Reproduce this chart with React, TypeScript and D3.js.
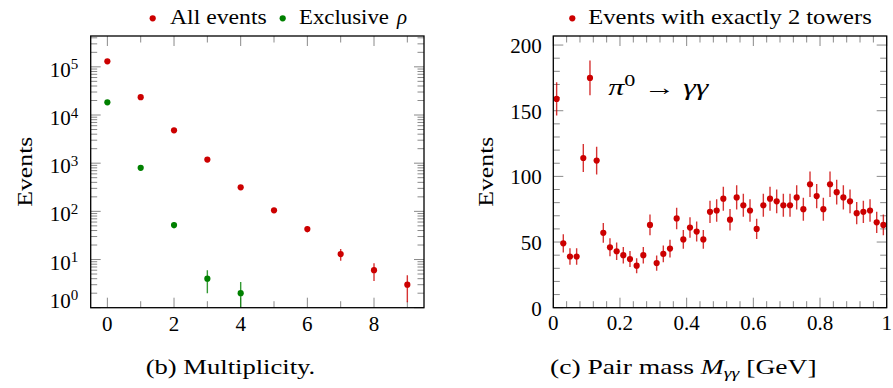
import React from 'react';
import * as d3 from 'd3';

// ---------- data ----------
const multiplicity = [0, 1, 2, 3, 4, 5, 6, 7, 8, 9];
const allEvents = [130000, 23500, 4800, 1190, 316, 105, 43, 13, 6, 3];
const allEventsErr = [360, 153, 69, 34, 18, 10.2, 6.6, 3.6, 2.4, 1.7];
const exclusiveMult = [0, 1, 2, 3, 4];
const exclusiveRho = [18300, 800, 52, 4, 2];
const exclusiveErr = [135, 28, 7.2, 2, 1.4];

const massBins = [
  0.01, 0.03, 0.05, 0.07, 0.09, 0.11, 0.13, 0.15, 0.17, 0.19,
  0.21, 0.23, 0.25, 0.27, 0.29, 0.31, 0.33, 0.35, 0.37, 0.39,
  0.41, 0.43, 0.45, 0.47, 0.49, 0.51, 0.53, 0.55, 0.57, 0.59,
  0.61, 0.63, 0.65, 0.67, 0.69, 0.71, 0.73, 0.75, 0.77, 0.79,
  0.81, 0.83, 0.85, 0.87, 0.89, 0.91, 0.93, 0.95, 0.97, 0.99,
];
const pairCounts = [
  159, 49, 39, 39, 114, 175, 112, 57, 46, 43,
  40, 37, 32, 40, 63, 34, 41, 45, 68, 52,
  61, 58, 52, 73, 74, 83, 67, 84, 78, 74,
  60, 78, 83, 81, 78, 78, 84, 75, 94, 85,
  75, 94, 88, 84, 81, 72, 73, 74, 65, 63,
];
const pairErr = [
  12.6, 7.0, 6.2, 6.2, 10.7, 13.2, 10.6, 7.5, 6.8, 6.6,
  6.3, 6.1, 5.7, 6.3, 7.9, 5.8, 6.4, 6.7, 8.2, 7.2,
  7.8, 7.6, 7.2, 8.5, 8.6, 9.1, 8.2, 9.2, 8.8, 8.6,
  7.7, 8.8, 9.1, 9.0, 8.8, 8.8, 9.2, 8.7, 9.7, 9.2,
  8.7, 9.7, 9.4, 9.2, 9.0, 8.5, 8.5, 8.6, 8.1, 7.9,
];

const multTicks = [0, 2, 4, 6, 8];
const logTicks = [1, 10, 100, 1000, 10000, 100000];
const logTickExp = ['0', '1', '2', '3', '4', '5'];
const massTicks = [0, 0.2, 0.4, 0.6, 0.8, 1];
const massTickLabels = ['0', '0.2', '0.4', '0.6', '0.8', '1'];
const countTicks = [0, 50, 100, 150, 200];

// ---------- style ----------
const RED = '#cc0000';
const GREEN = '#008000';
const TICK = '#8a8a8a';
const FONT = "'Liberation Serif', 'DejaVu Serif', serif";
const FS = 21;
const MAJ = 10;
const MIN = 6.5;

const L = { x0: 90.7, x1: 424, y0: 36, y1: 307.7 };
const R = { x0: 553.3, x1: 886.7, y0: 36, y1: 307.7 };

const xL = d3.scaleLinear().domain([-0.5, 9.5]).range([L.x0, L.x1]);
const yL = d3.scaleLog().domain([1, Math.pow(10, 5.64)]).range([L.y1, L.y0]);
const xR = d3.scaleLinear().domain([0, 1]).range([R.x0, R.x1]);
const yR = d3.scaleLinear().domain([0, 206.9]).range([R.y1, R.y0]);

function XTicks({ box, pos, len }: any) {
  return (
    <g stroke={TICK} strokeWidth={1}>
      {pos.map((x: number, i: number) => (
        <g key={i}>
          <line x1={x} x2={x} y1={box.y1} y2={box.y1 - len} />
          <line x1={x} x2={x} y1={box.y0} y2={box.y0 + len} />
        </g>
      ))}
    </g>
  );
}
function YTicks({ box, pos, len }: any) {
  return (
    <g stroke={TICK} strokeWidth={1}>
      {pos.map((y: number, i: number) => (
        <g key={i}>
          <line x1={box.x0} x2={box.x0 + len} y1={y} y2={y} />
          <line x1={box.x1} x2={box.x1 - len} y1={y} y2={y} />
        </g>
      ))}
    </g>
  );
}

function Points({ xs, ys, es, sx, sy, color, clip }: any) {
  return (
    <g clipPath={`url(#${clip})`}>
      {xs.map((x: number, i: number) => {
        const lo = Math.max(ys[i] - es[i], sy.domain()[0] > 0 ? 1e-3 : -10);
        return (
          <line key={'e' + i} x1={sx(x)} x2={sx(x)} y1={sy(ys[i] + es[i])} y2={sy(lo)}
            stroke={color} strokeWidth={1.4} strokeOpacity={0.8} />
        );
      })}
      {xs.map((x: number, i: number) => (
        <circle key={'c' + i} cx={sx(x)} cy={sy(ys[i])} r={3.1} fill={color} />
      ))}
    </g>
  );
}

export default function App() {
  const lMinorX = [1, 3, 5, 7, 9];
  const lMinorY = yL.ticks().filter((t) => !logTicks.includes(t));
  const rMinorX = d3.range(0, 26).map((i) => i * 0.04).filter((t) => t <= 1.0001);
  const rMinorY = yR.ticks(20).filter((t) => t % 50 !== 0);

  return (
    <svg width={893} height={388} style={{ position: 'absolute', left: 0, top: 0, background: '#fff', fontFamily: FONT }}>
      <defs>
        <clipPath id="clipL"><rect x={L.x0} y={L.y0} width={L.x1 - L.x0} height={L.y1 - L.y0} /></clipPath>
        <clipPath id="clipR"><rect x={R.x0} y={R.y0} width={R.x1 - R.x0} height={R.y1 - R.y0} /></clipPath>
      </defs>
      <rect width={893} height={388} fill="#fff" />

      {/* ---------- Left plot ---------- */}
      <XTicks box={L} pos={multTicks.map((t) => xL(t))} len={MAJ} />
      <XTicks box={L} pos={lMinorX.map((t) => xL(t))} len={MIN} />
      <YTicks box={L} pos={logTicks.map((t) => yL(t))} len={MAJ} />
      <YTicks box={L} pos={lMinorY.map((t) => yL(t))} len={MIN} />
      <Points xs={multiplicity} ys={allEvents} es={allEventsErr} sx={xL} sy={yL} color={RED} clip="clipL" />
      <Points xs={exclusiveMult} ys={exclusiveRho} es={exclusiveErr} sx={xL} sy={yL} color={GREEN} clip="clipL" />
      <rect x={L.x0} y={L.y0} width={L.x1 - L.x0} height={L.y1 - L.y0} fill="none" stroke="#000" strokeWidth={1.3} />

      <g fontSize={FS} fill="#000">
        {multTicks.map((t) => (
          <text key={t} x={xL(t)} y={331} textAnchor="middle">{t}</text>
        ))}
        {logTicks.map((t, i) => (
          <text key={t} x={78.3} y={i === 0 ? L.y1 : yL(t) + 10} textAnchor="end">
            10<tspan fontSize={15} dy={-7.5}>{logTickExp[i]}</tspan>
          </text>
        ))}
        <text transform={`translate(31.7,171.7) rotate(-90)`} textAnchor="middle" textLength={70} lengthAdjust="spacingAndGlyphs">Events</text>
        <text x={145.7} y={374} textLength={169.6} lengthAdjust="spacingAndGlyphs">(b) Multiplicity.</text>
      </g>

      {/* left legend */}
      <circle cx={152.7} cy={18.3} r={3.1} fill={RED} />
      <text x={170} y={24} fontSize={FS} textLength={96.7} lengthAdjust="spacingAndGlyphs">All events</text>
      <circle cx={282.7} cy={18.3} r={3.1} fill={GREEN} />
      <text x={299} y={24} fontSize={FS} textLength={90} lengthAdjust="spacingAndGlyphs">Exclusive</text>
      <text x={397} y={24} fontSize={FS} fontStyle="italic">ρ</text>

      {/* ---------- Right plot ---------- */}
      <XTicks box={R} pos={massTicks.map((t) => xR(t))} len={MAJ} />
      <XTicks box={R} pos={rMinorX.filter((t) => !massTicks.some((m) => Math.abs(m - t) < 1e-6)).map((t) => xR(t))} len={MIN} />
      <YTicks box={R} pos={countTicks.map((t) => yR(t))} len={MAJ} />
      <YTicks box={R} pos={rMinorY.map((t) => yR(t))} len={MIN} />
      <Points xs={massBins} ys={pairCounts} es={pairErr} sx={xR} sy={yR} color={RED} clip="clipR" />
      <rect x={R.x0} y={R.y0} width={R.x1 - R.x0} height={R.y1 - R.y0} fill="none" stroke="#000" strokeWidth={1.3} />

      <g fontSize={FS} fill="#000">
        {massTicks.map((t, i) => (
          <text key={t} x={xR(t)} y={330} textAnchor="middle">{massTickLabels[i]}</text>
        ))}
        {countTicks.map((t) => (
          <text key={t} x={541.7} y={yR(t) + 8} textAnchor="end">{t}</text>
        ))}
        <text transform={`translate(492.7,171.7) rotate(-90)`} textAnchor="middle" textLength={70} lengthAdjust="spacingAndGlyphs">Events</text>
        <text x={550} y={374} textLength={266.7} lengthAdjust="spacingAndGlyphs">
          (c) Pair mass <tspan fontStyle="italic">M</tspan><tspan fontStyle="italic" fontSize={15} dy={4}>γγ</tspan><tspan dy={-4}> [GeV]</tspan>
        </text>
        <text x={608.3} y={95} fontSize={23} textLength={100} lengthAdjust="spacingAndGlyphs">
          <tspan fontStyle="italic">π</tspan><tspan fontSize={16} dy={-9}>0</tspan><tspan dy={9}> → </tspan><tspan fontStyle="italic">γγ</tspan>
        </text>
      </g>

      {/* right legend */}
      <circle cx={572.3} cy={18.3} r={3.1} fill={RED} />
      <text x={588.3} y={24} fontSize={FS} textLength={283.4} lengthAdjust="spacingAndGlyphs">Events with exactly 2 towers</text>
    </svg>
  );
}
